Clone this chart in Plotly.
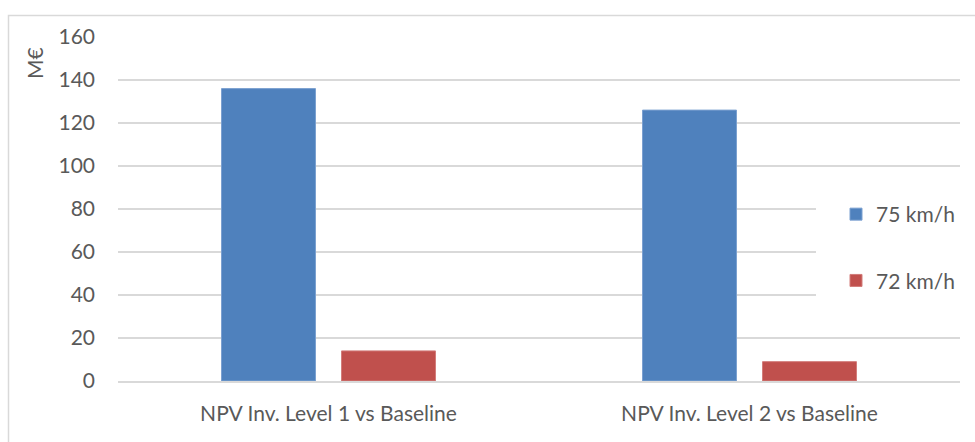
import plotly.graph_objects as go

# Net present value comparison, in M€
categories = ["NPV Inv. Level 1 vs Baseline", "NPV Inv. Level 2 vs Baseline"]
series_names = ["75 km/h", "72 km/h"]
values_75 = [136, 126]
values_72 = [14, 9]
y_ticks = [0, 20, 40, 60, 80, 100, 120, 140, 160]

BLUE = "#4F81BD"
RED = "#C0504D"
TEXT = "#595959"
GRID = "#D9D9D9"
FONT = "Lato"
SIZE = 21

fig = go.Figure()
fig.add_trace(go.Bar(name=series_names[0], x=categories, y=values_75,
                     marker=dict(color=BLUE, line=dict(color="#7BA0D0", width=1)),
                     legendgroup="a"))
fig.add_trace(go.Bar(name=series_names[1], x=categories, y=values_72,
                     marker=dict(color=RED, line=dict(color="#D27C7A", width=1)),
                     legendgroup="b"))

W, H = 975, 442
L, R, T, B = 118, 15, 37, 61
pw, ph = W - L - R, H - T - B

def px_x(p):
    return (p - L) / pw

def px_y(p):
    return (H - B - p) / ph

fig.update_layout(
    width=W, height=H,
    margin=dict(l=L, r=R, t=T, b=B),
    paper_bgcolor="white", plot_bgcolor="white",
    barmode="group", bargap=0.43, bargroupgap=0.217,
    font=dict(family=FONT, color=TEXT, size=SIZE),
    showlegend=True,
    legend=dict(
        x=px_x(836), y=px_y(194), xanchor="left", yanchor="top",
        bgcolor="rgba(0,0,0,0)", borderwidth=0,
        font=dict(family=FONT, size=SIZE, color=TEXT),
        traceorder="grouped", tracegroupgap=36,
        itemwidth=30,
    ),
    xaxis=dict(
        showgrid=False, showline=True, linecolor=GRID, linewidth=1.5,
        ticks="", ticklabelstandoff=13,
        tickfont=dict(family=FONT, size=SIZE, color=TEXT),
    ),
    yaxis=dict(
        range=[0, 160], tickvals=y_ticks, ticktext=[str(v) for v in y_ticks],
        showgrid=True, gridcolor=GRID, gridwidth=1.5, zeroline=False,
        showline=False, ticks="", ticklabelstandoff=22,
        tickfont=dict(family=FONT, size=SIZE, color=TEXT),
    ),
    shapes=[
        # outer chart frame
        dict(type="rect", xref="paper", yref="paper",
             x0=px_x(8.5), x1=px_x(990), y0=px_y(460), y1=px_y(15.5),
             line=dict(color=GRID, width=1.5), fillcolor="rgba(0,0,0,0)", layer="below"),
        # white legend panel that interrupts the gridlines
        dict(type="rect", xref="paper", yref="paper",
             x0=px_x(816), x1=px_x(962), y0=px_y(308), y1=px_y(192),
             line=dict(width=0), fillcolor="white", layer="above"),
    ],
    annotations=[dict(
        text="M€", textangle=-90, xref="paper", yref="paper",
        x=px_x(34), y=px_y(63), xanchor="center", yanchor="middle",
        showarrow=False, font=dict(family=FONT, size=SIZE, color=TEXT),
    )],
)

fig.write_html("out.html")
